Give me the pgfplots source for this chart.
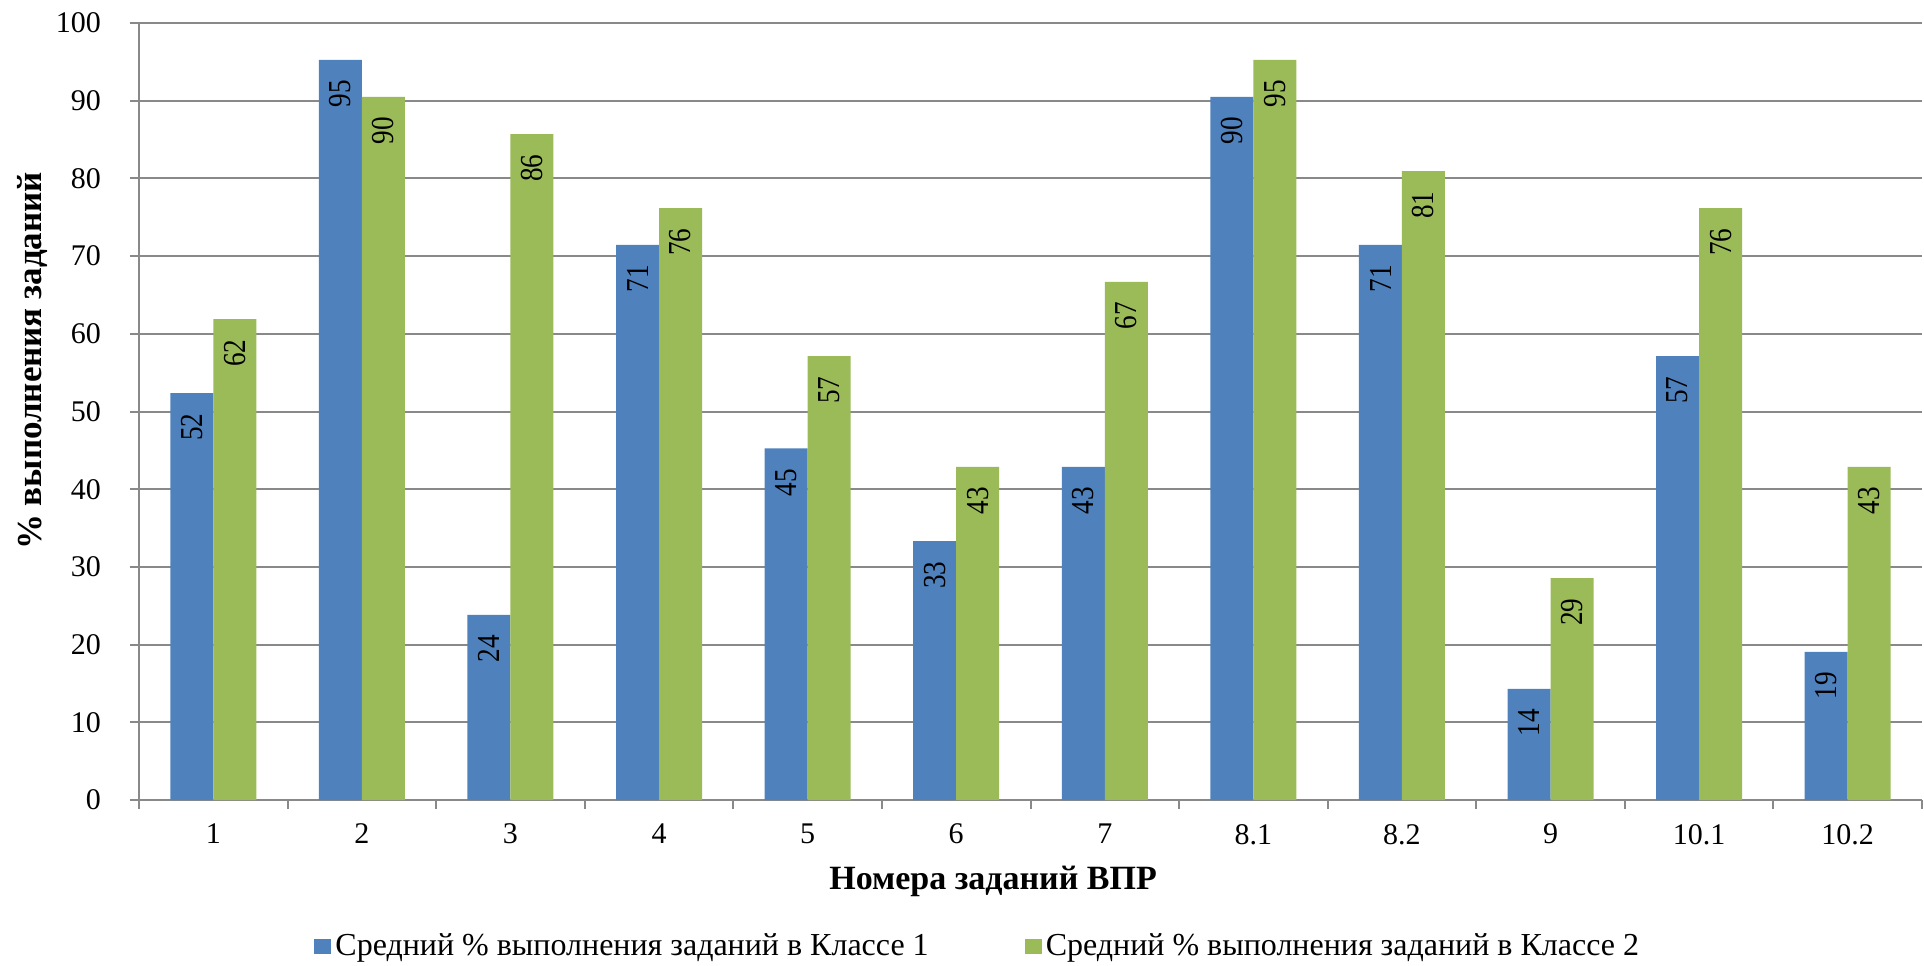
\documentclass[border=0pt]{standalone}
\usepackage{pgfplots}
\pgfplotsset{compat=1.18}
\usepackage{fontspec}
\setmainfont{Liberation Serif}
\newfontfamily\condfont[FakeStretch=0.85]{Liberation Serif}
\definecolor{cblue}{HTML}{4F81BD}
\definecolor{cgreen}{HTML}{9BBB59}
\definecolor{cgrid}{HTML}{898989}
\pgfplotsset{/pgf/number format/assume math mode=true}
\begin{document}
\begin{tikzpicture}[font=\fontsize{15}{18}\selectfont]
\useasboundingbox (0,0) rectangle (962pt,482.5pt);
\begin{axis}[
  at={(69.5pt,82.5pt)}, anchor=south west,
  scale only axis, width=891.5pt, height=388.5pt,
  ybar=0pt, bar width=21.5pt,
  xmin=-0.5, xmax=11.5, ymin=0, ymax=100,
  axis x line*=bottom, axis y line*=left,
  axis line style={cgrid, line width=1pt},
  ytick={0,10,...,100},
  yticklabel style={xshift=-11pt},
  xtick={-0.5,0.5,...,11.5},
  xticklabels={1,2,3,4,5,6,7,8.1,8.2,9,10.1,10.2,{}},
  xticklabel style={xshift=37.15pt, yshift=-4pt},
  tick align=outside, major tick length=4.5pt,
  tick style={cgrid, line width=1pt},
  ymajorgrids, grid style={cgrid, line width=1pt},
  ylabel={\bfseries\fontsize{17.5}{20}\selectfont \% выполнения заданий},
  ylabel style={at={(axis description cs:-0.060,0.565)}, anchor=center},
  xlabel={\bfseries\fontsize{17}{20}\selectfont Номера заданий ВПР},
  xlabel style={at={(axis description cs:0.479,-0.1042)}, anchor=center},
  legend style={at={(axis description cs:0.471,-0.1879)}, anchor=center, draw=none,
    font=\fontsize{16}{19}\selectfont,
    legend columns=2, /tikz/every even column/.append style={column sep=46pt}},
  legend image code/.code={\fill[#1] (0pt,-3.75pt) rectangle (8.5pt,3.75pt);},
  nodes near coords={\condfont\pgfmathprintnumber[fixed,precision=0]{\pgfplotspointmeta}},
  every node near coord/.append style={rotate=90, anchor=east, inner xsep=10pt, inner ysep=0pt, black, font=\fontsize{16}{19}\selectfont},
]
\addplot[fill=cblue, draw=none] coordinates {
(0,52.38) (1,95.24) (2,23.81) (3,71.43) (4,45.24) (5,33.33) (6,42.86) (7,90.48) (8,71.43) (9,14.29) (10,57.14) (11,19.05)};
\addplot[fill=cgreen, draw=none] coordinates {
(0,61.90) (1,90.48) (2,85.71) (3,76.19) (4,57.14) (5,42.86) (6,66.67) (7,95.24) (8,80.95) (9,28.57) (10,76.19) (11,42.86)};
\legend{Средний \% выполнения заданий в Классе 1, Средний \% выполнения заданий в Классе 2}
\end{axis}
\end{tikzpicture}
\end{document}
